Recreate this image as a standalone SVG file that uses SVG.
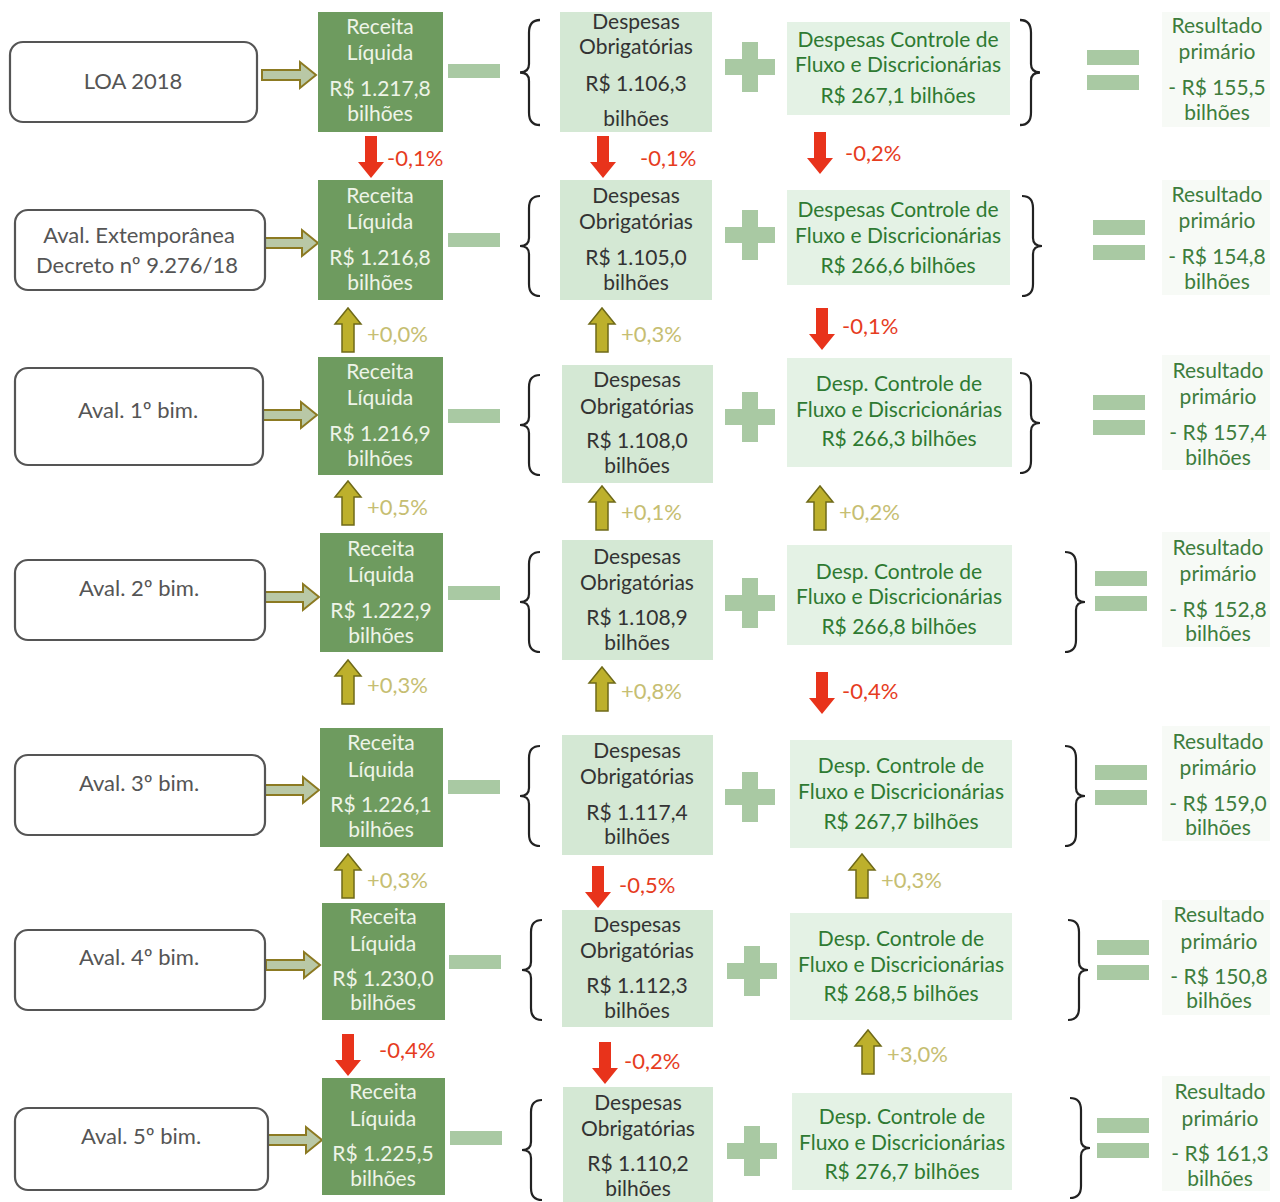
<svg xmlns="http://www.w3.org/2000/svg" width="1280" height="1202" viewBox="0 0 1280 1202">
<style>
text{font-family:Lato,"Open Sans","Liberation Sans",sans-serif;font-size:21px;text-anchor:middle}
.lb{fill:#fff;stroke:#555;stroke-width:2.2}
.lt{fill:#555;font-size:22px}
.rc{fill:#6e9b5f}
.rt{fill:#eef4e8}
.dob{fill:#d4e8d4}
.dt{fill:#333}
.dcf{fill:#e4f2e5}
.ct{fill:#2e7a32}
.op{fill:#a9c9a3}
.br{fill:none;stroke:#222;stroke-width:2.2}
.res{fill:#f7faf6}
.rst{fill:#3d7d3d}
.ha{fill:#b9c8a6;stroke:#8c7a22;stroke-width:2}
.dn{fill:#e8331b}
.up{fill:#bdb02c;stroke:#6f6a18;stroke-width:1.5}
.pr{fill:#e63c1e;text-anchor:start;font-size:22px}
.pu{fill:#c6be72;text-anchor:start;font-size:22px}
</style>
<defs>
<path id="minus" d="M0,0h52v14h-52z"/>
<path id="plus" d="M-8,-25h16v17h17v16h-17v17h-16v-17h-17v-16h17z"/>
<path id="eq" d="M0,0h52v15h-52zM0,25h52v15h-52z"/>
<path id="harrow" d="M0,-5h38v-8l16,13l-16,13v-8h-38z"/>
<path id="darrow" d="M-6,0h12v26h7l-13,16l-13,-16h7z"/>
<path id="uarrow" d="M-6,44h12v-28h7l-13,-16l-13,16h7z"/>
<path id="lbrace" d="M20,0Q9,0 9,12V42Q9,50 0,50Q9,50 9,58V88Q9,100 20,100"/>
<path id="rbrace" d="M0,0Q11,0 11,12V42Q11,50 20,50Q11,50 11,58V88Q11,100 0,100"/>
</defs>

<g id="connectors">
<use href="#harrow" x="262" y="75" class="ha"/>
<use href="#harrow" x="264" y="243" class="ha"/>
<use href="#harrow" x="263" y="415" class="ha"/>
<use href="#harrow" x="265" y="597" class="ha"/>
<use href="#harrow" x="265" y="790" class="ha"/>
<use href="#harrow" x="266" y="965" class="ha"/>
<use href="#harrow" x="268" y="1140" class="ha"/>

<use href="#darrow" x="371" y="136" class="dn"/><text x="387" y="166" class="pr">-0,1%</text>
<use href="#darrow" x="603" y="136" class="dn"/><text x="640" y="166" class="pr">-0,1%</text>
<use href="#darrow" x="820" y="132" class="dn"/><text x="845" y="161" class="pr">-0,2%</text>

<use href="#uarrow" x="348" y="308" class="up"/><text x="367" y="342" class="pu">+0,0%</text>
<use href="#uarrow" x="602" y="308" class="up"/><text x="621" y="342" class="pu">+0,3%</text>
<use href="#darrow" x="822" y="308" class="dn"/><text x="842" y="334" class="pr">-0,1%</text>

<use href="#uarrow" x="348" y="481" class="up"/><text x="367" y="515" class="pu">+0,5%</text>
<use href="#uarrow" x="602" y="486" class="up"/><text x="621" y="520" class="pu">+0,1%</text>
<use href="#uarrow" x="820" y="486" class="up"/><text x="839" y="520" class="pu">+0,2%</text>

<use href="#uarrow" x="348" y="660" class="up"/><text x="367" y="693" class="pu">+0,3%</text>
<use href="#uarrow" x="602" y="667" class="up"/><text x="621" y="699" class="pu">+0,8%</text>
<use href="#darrow" x="822" y="672" class="dn"/><text x="842" y="699" class="pr">-0,4%</text>

<use href="#uarrow" x="348" y="854" class="up"/><text x="367" y="888" class="pu">+0,3%</text>
<use href="#darrow" x="598" y="866" class="dn"/><text x="619" y="893" class="pr">-0,5%</text>
<use href="#uarrow" x="862" y="854" class="up"/><text x="881" y="888" class="pu">+0,3%</text>

<use href="#darrow" x="348" y="1034" class="dn"/><text x="379" y="1058" class="pr">-0,4%</text>
<use href="#darrow" x="605" y="1042" class="dn"/><text x="624" y="1069" class="pr">-0,2%</text>
<use href="#uarrow" x="868" y="1030" class="up"/><text x="887" y="1062" class="pu">+3,0%</text>
</g>

<!-- Row 1 -->
<g id="loa2018"><rect x="10" y="42" width="247" height="80" rx="13" class="lb"/><text x="133" y="89" class="lt">LOA 2018</text></g>
<g id="rec1"><rect x="318" y="12" width="125" height="120" class="rc"/>
<text x="380" y="34" class="rt">Receita</text><text x="380" y="60" class="rt">Líquida</text><text x="380" y="96" class="rt">R$ 1.217,8</text><text x="380" y="121" class="rt">bilhões</text></g>
<g id="ops1"><use href="#minus" x="448" y="64" class="op"/><use href="#lbrace" x="520" y="20" class="br" transform="translate(520,20) scale(1,1.05) translate(-520,-20)"/><use href="#plus" x="750" y="67" class="op"/><use href="#rbrace" x="1020" y="20" class="br" transform="translate(1020,20) scale(1,1.05) translate(-1020,-20)"/><use href="#eq" x="1087" y="50" class="op"/></g>
<g id="dob1"><rect x="560" y="12" width="152" height="120" class="dob"/>
<text x="636" y="29" class="dt">Despesas</text><text x="636" y="54" class="dt">Obrigatórias</text><text x="636" y="91" class="dt">R$ 1.106,3</text><text x="636" y="126" class="dt">bilhões</text></g>
<g id="dcf1"><rect x="787" y="22" width="223" height="93" class="dcf"/>
<text x="898" y="47" class="ct">Despesas Controle de</text><text x="898" y="72" class="ct">Fluxo e Discricionárias</text><text x="898" y="103" class="ct">R$ 267,1 bilhões</text></g>
<g id="res1"><rect x="1162" y="12" width="108" height="115" class="res"/>
<text x="1217" y="33" class="rst">Resultado</text><text x="1217" y="59" class="rst">primário</text><text x="1217" y="95" class="rst">- R$ 155,5</text><text x="1217" y="120" class="rst">bilhões</text></g>

<!-- Row 2 -->
<g id="extemp"><rect x="15" y="210" width="250" height="80" rx="13" class="lb"/><text x="139" y="243" class="lt">Aval. Extemporânea</text><text x="137" y="273" class="lt">Decreto nº 9.276/18</text></g>
<g id="rec2"><rect x="318" y="180" width="125" height="120" class="rc"/>
<text x="380" y="203" class="rt">Receita</text><text x="380" y="229" class="rt">Líquida</text><text x="380" y="265" class="rt">R$ 1.216,8</text><text x="380" y="290" class="rt">bilhões</text></g>
<g id="ops2"><use href="#minus" x="448" y="233" class="op"/><use href="#lbrace" x="520" y="196" class="br"/><use href="#plus" x="750" y="235" class="op"/><use href="#rbrace" x="1022" y="196" class="br"/><use href="#eq" x="1093" y="220" class="op"/></g>
<g id="dob2"><rect x="560" y="180" width="152" height="120" class="dob"/>
<text x="636" y="203" class="dt">Despesas</text><text x="636" y="229" class="dt">Obrigatórias</text><text x="636" y="265" class="dt">R$ 1.105,0</text><text x="636" y="290" class="dt">bilhões</text></g>
<g id="dcf2"><rect x="787" y="190" width="223" height="95" class="dcf"/>
<text x="898" y="217" class="ct">Despesas Controle de</text><text x="898" y="243" class="ct">Fluxo e Discricionárias</text><text x="898" y="273" class="ct">R$ 266,6 bilhões</text></g>
<g id="res2"><rect x="1162" y="180" width="108" height="115" class="res"/>
<text x="1217" y="202" class="rst">Resultado</text><text x="1217" y="228" class="rst">primário</text><text x="1217" y="264" class="rst">- R$ 154,8</text><text x="1217" y="289" class="rst">bilhões</text></g>

<!-- Row 3 -->
<g id="bim1"><rect x="15" y="368" width="248" height="97" rx="13" class="lb"/><text x="138" y="418" class="lt">Aval. 1º bim.</text></g>
<g id="rec3"><rect x="318" y="357" width="125" height="118" class="rc"/>
<text x="380" y="379" class="rt">Receita</text><text x="380" y="405" class="rt">Líquida</text><text x="380" y="441" class="rt">R$ 1.216,9</text><text x="380" y="466" class="rt">bilhões</text></g>
<g id="ops3"><use href="#minus" x="448" y="409" class="op"/><use href="#lbrace" x="520" y="375" class="br"/><use href="#plus" x="750" y="417" class="op"/><use href="#rbrace" x="1020" y="373" class="br"/><use href="#eq" x="1093" y="395" class="op"/></g>
<g id="dob3"><rect x="562" y="365" width="151" height="118" class="dob"/>
<text x="637" y="387" class="dt">Despesas</text><text x="637" y="414" class="dt">Obrigatórias</text><text x="637" y="448" class="dt">R$ 1.108,0</text><text x="637" y="473" class="dt">bilhões</text></g>
<g id="dcf3"><rect x="787" y="358" width="225" height="109" class="dcf"/>
<text x="899" y="391" class="ct">Desp. Controle de</text><text x="899" y="417" class="ct">Fluxo e Discricionárias</text><text x="899" y="446" class="ct">R$ 266,3 bilhões</text></g>
<g id="res3"><rect x="1162" y="355" width="108" height="115" class="res"/>
<text x="1218" y="378" class="rst">Resultado</text><text x="1218" y="404" class="rst">primário</text><text x="1218" y="440" class="rst">- R$ 157,4</text><text x="1218" y="465" class="rst">bilhões</text></g>

<!-- Row 4 -->
<g id="bim2"><rect x="15" y="560" width="250" height="80" rx="13" class="lb"/><text x="139" y="596" class="lt">Aval. 2º bim.</text></g>
<g id="rec4"><rect x="320" y="533" width="123" height="119" class="rc"/>
<text x="381" y="556" class="rt">Receita</text><text x="381" y="582" class="rt">Líquida</text><text x="381" y="618" class="rt">R$ 1.222,9</text><text x="381" y="643" class="rt">bilhões</text></g>
<g id="ops4"><use href="#minus" x="448" y="586" class="op"/><use href="#lbrace" x="520" y="552" class="br"/><use href="#plus" x="750" y="603" class="op"/><use href="#rbrace" x="1065" y="552" class="br"/><use href="#eq" x="1095" y="571" class="op"/></g>
<g id="dob4"><rect x="562" y="540" width="151" height="120" class="dob"/>
<text x="637" y="564" class="dt">Despesas</text><text x="637" y="590" class="dt">Obrigatórias</text><text x="637" y="625" class="dt">R$ 1.108,9</text><text x="637" y="650" class="dt">bilhões</text></g>
<g id="dcf4"><rect x="787" y="545" width="225" height="100" class="dcf"/>
<text x="899" y="579" class="ct">Desp. Controle de</text><text x="899" y="604" class="ct">Fluxo e Discricionárias</text><text x="899" y="634" class="ct">R$ 266,8 bilhões</text></g>
<g id="res4"><rect x="1162" y="532" width="108" height="115" class="res"/>
<text x="1218" y="555" class="rst">Resultado</text><text x="1218" y="581" class="rst">primário</text><text x="1218" y="617" class="rst">- R$ 152,8</text><text x="1218" y="641" class="rst">bilhões</text></g>

<!-- Row 5 -->
<g id="bim3"><rect x="15" y="755" width="250" height="80" rx="13" class="lb"/><text x="139" y="791" class="lt">Aval. 3º bim.</text></g>
<g id="rec5"><rect x="320" y="728" width="123" height="119" class="rc"/>
<text x="381" y="750" class="rt">Receita</text><text x="381" y="777" class="rt">Líquida</text><text x="381" y="812" class="rt">R$ 1.226,1</text><text x="381" y="837" class="rt">bilhões</text></g>
<g id="ops5"><use href="#minus" x="448" y="780" class="op"/><use href="#lbrace" x="520" y="746" class="br"/><use href="#plus" x="750" y="797" class="op"/><use href="#rbrace" x="1065" y="746" class="br"/><use href="#eq" x="1095" y="765" class="op"/></g>
<g id="dob5"><rect x="562" y="735" width="151" height="120" class="dob"/>
<text x="637" y="758" class="dt">Despesas</text><text x="637" y="784" class="dt">Obrigatórias</text><text x="637" y="820" class="dt">R$ 1.117,4</text><text x="637" y="844" class="dt">bilhões</text></g>
<g id="dcf5"><rect x="790" y="740" width="222" height="108" class="dcf"/>
<text x="901" y="773" class="ct">Desp. Controle de</text><text x="901" y="799" class="ct">Fluxo e Discricionárias</text><text x="901" y="829" class="ct">R$ 267,7 bilhões</text></g>
<g id="res5"><rect x="1162" y="726" width="108" height="115" class="res"/>
<text x="1218" y="749" class="rst">Resultado</text><text x="1218" y="775" class="rst">primário</text><text x="1218" y="811" class="rst">- R$ 159,0</text><text x="1218" y="835" class="rst">bilhões</text></g>

<!-- Row 6 -->
<g id="bim4"><rect x="15" y="930" width="250" height="80" rx="13" class="lb"/><text x="139" y="965" class="lt">Aval. 4º bim.</text></g>
<g id="rec6"><rect x="322" y="903" width="123" height="117" class="rc"/>
<text x="383" y="924" class="rt">Receita</text><text x="383" y="951" class="rt">Líquida</text><text x="383" y="986" class="rt">R$ 1.230,0</text><text x="383" y="1010" class="rt">bilhões</text></g>
<g id="ops6"><use href="#minus" x="449" y="955" class="op"/><use href="#lbrace" x="522" y="920" class="br"/><use href="#plus" x="752" y="971" class="op"/><use href="#rbrace" x="1068" y="920" class="br"/><use href="#eq" x="1097" y="940" class="op"/></g>
<g id="dob6"><rect x="562" y="910" width="151" height="117" class="dob"/>
<text x="637" y="932" class="dt">Despesas</text><text x="637" y="958" class="dt">Obrigatórias</text><text x="637" y="993" class="dt">R$ 1.112,3</text><text x="637" y="1018" class="dt">bilhões</text></g>
<g id="dcf6"><rect x="790" y="913" width="222" height="107" class="dcf"/>
<text x="901" y="946" class="ct">Desp. Controle de</text><text x="901" y="972" class="ct">Fluxo e Discricionárias</text><text x="901" y="1001" class="ct">R$ 268,5 bilhões</text></g>
<g id="res6"><rect x="1162" y="900" width="108" height="115" class="res"/>
<text x="1219" y="922" class="rst">Resultado</text><text x="1219" y="949" class="rst">primário</text><text x="1219" y="984" class="rst">- R$ 150,8</text><text x="1219" y="1008" class="rst">bilhões</text></g>

<!-- Row 7 -->
<g id="bim5"><rect x="15" y="1108" width="253" height="82" rx="13" class="lb"/><text x="141" y="1144" class="lt">Aval. 5º bim.</text></g>
<g id="rec7"><rect x="322" y="1078" width="123" height="117" class="rc"/>
<text x="383" y="1099" class="rt">Receita</text><text x="383" y="1126" class="rt">Líquida</text><text x="383" y="1161" class="rt">R$ 1.225,5</text><text x="383" y="1186" class="rt">bilhões</text></g>
<g id="ops7"><use href="#minus" x="450" y="1131" class="op"/><use href="#lbrace" x="522" y="1100" class="br"/><use href="#plus" x="752" y="1151" class="op"/><use href="#rbrace" x="1070" y="1098" class="br"/><use href="#eq" x="1097" y="1118" class="op"/></g>
<g id="dob7"><rect x="563" y="1087" width="150" height="115" class="dob"/>
<text x="638" y="1110" class="dt">Despesas</text><text x="638" y="1136" class="dt">Obrigatórias</text><text x="638" y="1171" class="dt">R$ 1.110,2</text><text x="638" y="1196" class="dt">bilhões</text></g>
<g id="dcf7"><rect x="792" y="1093" width="220" height="97" class="dcf"/>
<text x="902" y="1124" class="ct">Desp. Controle de</text><text x="902" y="1150" class="ct">Fluxo e Discricionárias</text><text x="902" y="1179" class="ct">R$ 276,7 bilhões</text></g>
<g id="res7"><rect x="1162" y="1076" width="108" height="115" class="res"/>
<text x="1220" y="1099" class="rst">Resultado</text><text x="1220" y="1126" class="rst">primário</text><text x="1220" y="1161" class="rst">- R$ 161,3</text><text x="1220" y="1186" class="rst">bilhões</text></g>
</svg>
